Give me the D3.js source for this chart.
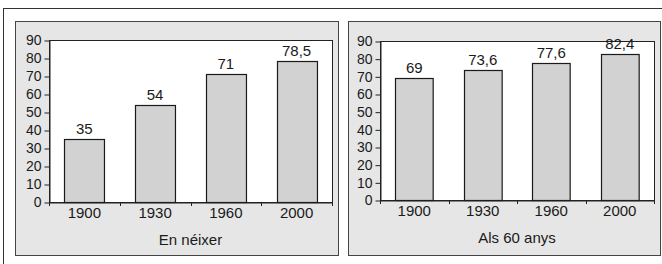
<!DOCTYPE html>
<html>
<head>
<meta charset="utf-8">
<script src="https://cdn.jsdelivr.net/npm/d3@7"></script>
<style>
  body { margin: 0; background: #fff; }
  text { font-family: "Liberation Sans", Arial, sans-serif; fill: #1a1a1a; }
</style>
</head>
<body>
<svg id="chart" width="662" height="264"></svg>
<script>
var years = ["1900", "1930", "1960", "2000"];
var birthValues = [35, 54, 71, 78.5];
var at60Values = [69, 73.6, 77.6, 82.4];
var yTicks = [0, 10, 20, 30, 40, 50, 60, 70, 80, 90];
var titles = ["En néixer", "Als 60 anys"];

var fmt = function(v){ return String(v).replace('.', ','); };

var svg = d3.select("#chart");

// outer frame
svg.append("rect")
    .attr("x", 3.5).attr("y", 8.5)
    .attr("width", 700).attr("height", 300)
    .attr("fill", "none").attr("stroke", "#333").attr("stroke-width", 1);

function drawPanel(box, plot, values, title, pad) {
    svg.append("rect")
        .attr("x", box.x + 0.5).attr("y", box.y + 0.5)
        .attr("width", box.w).attr("height", box.h)
        .attr("fill", "#e6e6e6").attr("stroke", "#444").attr("stroke-width", 1);

    var x = d3.scaleBand().domain(years).range([plot.x0, plot.x1]).paddingInner(pad).paddingOuter(pad / 2);
    var y = d3.scaleLinear().domain([0, 90]).range([plot.y0, plot.y1]);

    svg.append("rect")
        .attr("x", plot.x0 + 0.5).attr("y", plot.y1 + 0.5)
        .attr("width", plot.x1 - plot.x0).attr("height", plot.y0 - plot.y1)
        .attr("fill", "#fff").attr("stroke", "#222").attr("stroke-width", 1);

    var data = years.map(function(d, i){ return {year: d, v: values[i]}; });

    svg.selectAll(null)
        .data(data)
        .enter()
        .append("rect")
        .attr("x", function(d){ return Math.round(x(d.year)) + 0.5; })
        .attr("y", function(d){ return Math.round(y(d.v)) + 0.5; })
        .attr("width", x.bandwidth())
        .attr("height", function(d){ return Math.round(y(0)) - Math.round(y(d.v)); })
        .attr("fill", "#d2d2d2").attr("stroke", "#1a1a1a").attr("stroke-width", 1.2);

    svg.selectAll(null)
        .data(data)
        .enter()
        .append("text")
        .attr("x", function(d){ return x(d.year) + x.bandwidth() / 2; })
        .attr("y", function(d){ return y(d.v) - 5; })
        .attr("text-anchor", "middle")
        .attr("font-size", 15)
        .text(function(d){ return fmt(d.v); });

    // y axis
    var yAxis = d3.axisLeft(y).tickValues(yTicks).tickSize(5).tickSizeOuter(0).tickPadding(3);
    var gy = svg.append("g").attr("transform", "translate(" + (plot.x0 + 0.5) + ",0.5)").call(yAxis);
    gy.select(".domain").attr("stroke", "#222");
    gy.selectAll(".tick line").attr("stroke", "#222");
    gy.selectAll(".tick text").attr("font-size", 14).attr("fill", "#1a1a1a")
        .style("font-family", "'Liberation Sans', Arial, sans-serif");

    // x axis: labels centred, tick marks on the band boundaries
    var xAxis = d3.axisBottom(x).tickSize(0).tickPadding(5).tickSizeOuter(0);
    var gx = svg.append("g").attr("transform", "translate(0," + (plot.y0 + 0.5) + ")").call(xAxis);
    gx.select(".domain").attr("stroke", "#222");
    gx.selectAll(".tick text").attr("font-size", 15).attr("fill", "#1a1a1a")
        .style("font-family", "'Liberation Sans', Arial, sans-serif");

    var half = (x.step() - x.bandwidth()) / 2;
    var bounds = years.map(function(d){ return x(d) - half; });
    bounds.push(x(years[years.length - 1]) + x.bandwidth() + half);
    svg.selectAll(null)
        .data(bounds)
        .enter()
        .append("line")
        .attr("x1", function(d){ return Math.round(d) + 0.5; })
        .attr("x2", function(d){ return Math.round(d) + 0.5; })
        .attr("y1", plot.y0).attr("y2", plot.y0 + 4)
        .attr("stroke", "#222");

    svg.append("text")
        .attr("x", (plot.x0 + plot.x1) / 2)
        .attr("y", plot.y0 + 43)
        .attr("text-anchor", "middle")
        .attr("font-size", 15)
        .text(title);
}

drawPanel({x: 15, y: 21, w: 323, h: 234}, {x0: 49, x1: 332, y0: 202, y1: 40}, birthValues, titles[0], 0.435);
drawPanel({x: 348, y: 21, w: 312, h: 234}, {x0: 380, x1: 654, y0: 200, y1: 41}, at60Values, titles[1], 0.45);
</script>
</body>
</html>
